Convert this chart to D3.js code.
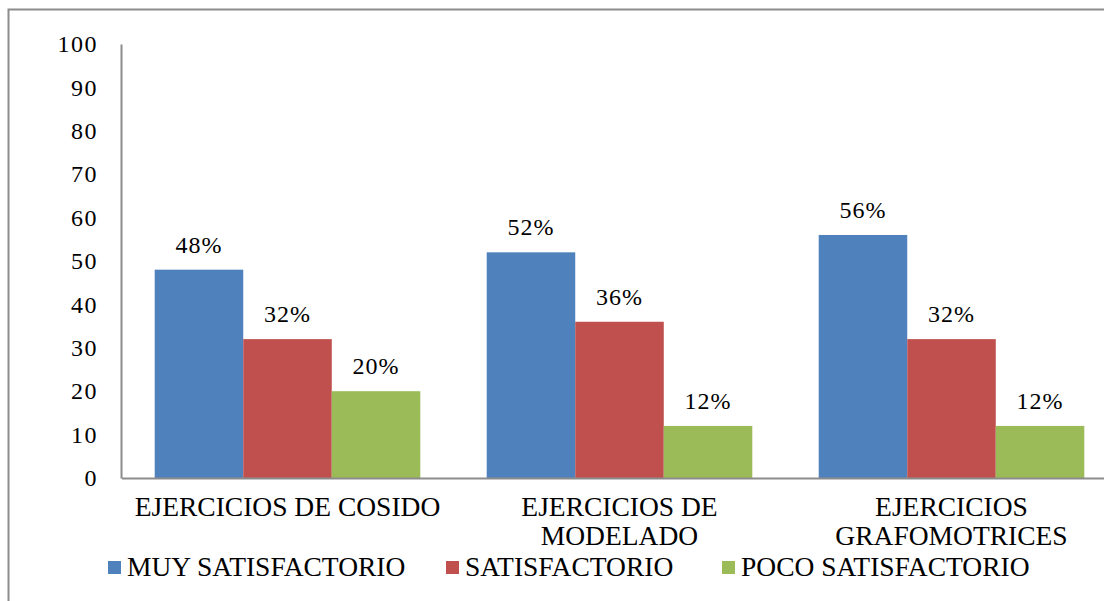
<!DOCTYPE html>
<html>
<head>
<meta charset="utf-8">
<script src="https://cdn.jsdelivr.net/npm/d3@7"></script>
<style>
  html, body { margin: 0; padding: 0; background: #fff; }
  svg { display: block; }
</style>
</head>
<body>
<script>
(function() {
  'use strict';

  const categories = [['EJERCICIOS DE COSIDO'], ['EJERCICIOS DE', 'MODELADO'], ['EJERCICIOS', 'GRAFOMOTRICES']];
  const seriesNames = ['MUY SATISFACTORIO', 'SATISFACTORIO', 'POCO SATISFACTORIO'];
  const muySatisfactorio = [48, 52, 56];
  const satisfactorio = [32, 36, 32];
  const pocoSatisfactorio = [20, 12, 12];
  const yTicks = [0, 10, 20, 30, 40, 50, 60, 70, 80, 90, 100];
  const colors = ['#4f81bd', '#c0504d', '#9bbb59'];

  const w = 1104;
  const h = 601;
  const series = [muySatisfactorio, satisfactorio, pocoSatisfactorio];
  const catKeys = categories.map((c) => c.join(' '));
  const txtFont = '"Liberation Serif", "Times New Roman", serif';

  const svg = d3.select('body')
    .append('svg')
    .attr('width', w)
    .attr('height', h);

  // outer frame, cut off at the right and bottom like the original
  svg.append('rect')
    .attr('x', 8.5)
    .attr('y', 9.5)
    .attr('width', w + 20)
    .attr('height', h + 20)
    .attr('fill', 'none')
    .attr('stroke', '#8c8c8c')
    .attr('stroke-width', 2);

  const x0 = d3.scaleBand()
    .domain(catKeys)
    .range([121.5, 1117.5])
    .paddingInner(0.2)
    .paddingOuter(0.1);

  const x1 = d3.scaleBand()
    .domain(d3.range(series.length))
    .range([0, x0.bandwidth()]);

  const y = d3.scaleLinear()
    .domain([0, 100])
    .range([478, 44]);

  // bars
  const groups = svg.selectAll('g.cat')
    .data(catKeys)
    .enter()
    .append('g')
    .attr('class', 'cat')
    .attr('transform', (d) => 'translate(' + x0(d) + ',0)');

  groups.selectAll('rect')
    .data((d, i) => series.map((s, j) => ({ j: j, v: s[i] })))
    .enter()
    .append('rect')
    .attr('x', (d) => x1(d.j))
    .attr('y', (d) => y(d.v))
    .attr('width', x1.bandwidth())
    .attr('height', (d) => y(0) - y(d.v))
    .attr('fill', (d) => colors[d.j]);

  groups.selectAll('text')
    .data((d, i) => series.map((s, j) => ({ j: j, v: s[i] })))
    .enter()
    .append('text')
    .attr('x', (d) => x1(d.j) + x1.bandwidth() / 2)
    .attr('y', (d) => y(d.v) - 17)
    .attr('text-anchor', 'middle')
    .style('font-family', txtFont)
    .style('font-size', '24px')
    .style('letter-spacing', '1px')
    .attr('fill', '#000')
    .text((d) => d.v + '%');

  // y axis
  const yAxis = d3.axisLeft(y).tickValues(yTicks).tickSize(0).tickPadding(23);
  const yg = svg.append('g')
    .attr('transform', 'translate(121,0)')
    .call(yAxis);
  yg.select('.domain').attr('stroke', '#8c8c8c').attr('stroke-width', 2);
  yg.selectAll('text')
    .style('font-family', txtFont)
    .style('font-size', '24px')
    .style('letter-spacing', '1.5px')
    .attr('fill', '#000');

  // x axis
  const xAxis = d3.axisBottom(x0).tickSize(0).tickFormat('');
  const xg = svg.append('g')
    .attr('transform', 'translate(0,478)')
    .call(xAxis);
  xg.select('.domain').attr('stroke', '#8c8c8c').attr('stroke-width', 2);

  svg.append('g').selectAll('text')
    .data(categories)
    .enter()
    .append('text')
    .attr('x', (d, i) => x0(catKeys[i]) + x0.bandwidth() / 2)
    .attr('y', 516)
    .attr('text-anchor', 'middle')
    .style('font-family', txtFont)
    .style('font-size', '27.5px')
    .attr('fill', '#000')
    .selectAll('tspan')
    .data((d) => d)
    .enter()
    .append('tspan')
    .attr('x', function() { return d3.select(this.parentNode).attr('x'); })
    .attr('dy', (d, i) => i === 0 ? 0 : 29)
    .text((d) => d);

  // legend
  const legendX = [108, 446, 722];
  const legend = svg.append('g').selectAll('g')
    .data(seriesNames)
    .enter()
    .append('g')
    .attr('transform', (d, i) => 'translate(' + legendX[i] + ',561)');
  legend.append('rect')
    .attr('width', 13)
    .attr('height', 13)
    .attr('fill', (d, i) => colors[i]);
  legend.append('text')
    .attr('x', 19)
    .attr('y', 15)
    .style('font-family', txtFont)
    .style('font-size', '27.5px')
    .attr('fill', '#000')
    .text((d) => d);
}());
</script>
</body>
</html>
